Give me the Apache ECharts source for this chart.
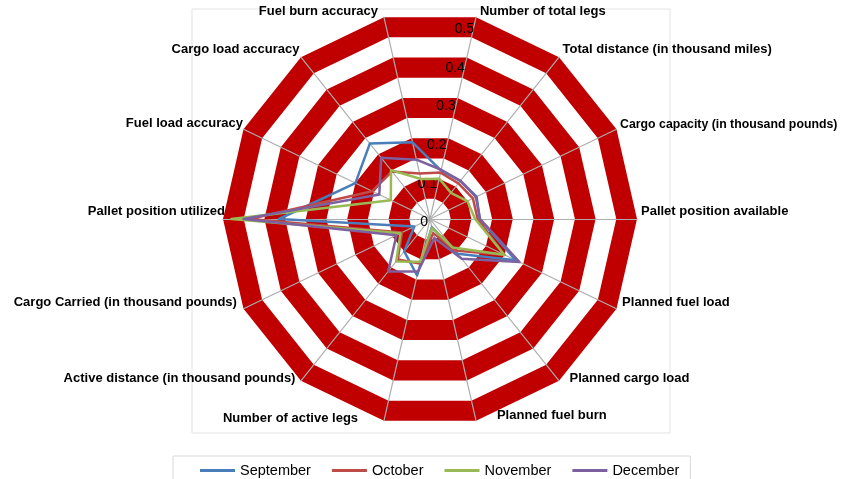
<!DOCTYPE html>
<html>
<head>
<meta charset="utf-8">
<title>Radar</title>
<script src="https://cdn.jsdelivr.net/npm/echarts@6/dist/echarts.min.js"></script>
<style>
  html, body { margin: 0; padding: 0; background: #fff; }
  #main { width: 851px; height: 479px; }
</style>
</head>
<body>
<div id="main"></div>
<script>
// categories in the order they go round the chart (clockwise from the top)
var categories = [
  'Number of total legs',
  'Total distance (in thousand miles)',
  'Cargo capacity (in thousand pounds)',
  'Pallet position available',
  'Planned fuel load',
  'Planned cargo load',
  'Planned fuel burn',
  'Number of active legs',
  'Active distance (in thousand pounds)',
  'Cargo Carried (in thousand pounds)',
  'Pallet position utilized',
  'Fuel load accuracy',
  'Cargo load accuracy',
  'Fuel burn accuracy'
]
var months = ['September', 'October', 'November', 'December']
var september = [0.12, 0.118, 0.125, 0.12, 0.23, 0.107, 0.02, 0.14, 0.10, 0.042, 0.365, 0.20, 0.233, 0.19]
var october = [0.115, 0.11, 0.115, 0.115, 0.20, 0.097, 0.035, 0.11, 0.125, 0.075, 0.435, 0.155, 0.147, 0.113]
var november = [0.10, 0.081, 0.10, 0.109, 0.199, 0.088, 0.022, 0.106, 0.131, 0.079, 0.48, 0.105, 0.151, 0.099]
var december = [0.122, 0.118, 0.123, 0.121, 0.24, 0.123, 0.047, 0.13, 0.162, 0.09, 0.45, 0.136, 0.189, 0.147]
var axisTicks = [0, 0.1, 0.2, 0.3, 0.4, 0.5]
var colors = ['#4A7EBB', '#BE4B48', '#98B954', '#7D60A0']

// small nudges [dx, dy] so the names sit where excel put them
var labelNudge = [
  [3, -2], [1, -5], [0, -3], [0, -8], [2, -8], [8, -6], [20, -9],
  [-25, -6], [-3, -6], [-3, -8], [6, -8], [3, -4], [1, -5], [-5, -2]
]

// echarts goes round counter-clockwise, so walk the categories backwards
var order = [0]
for (var i = categories.length - 1; i > 0; i--) order.push(i)
function reorder(arr) {
  return order.map(function (k) { return arr[k] })
}

var half = categories.length / 2
var nameRich = {}
categories.forEach(function (c, k) {
  var dx = labelNudge[k][0], dy = labelNudge[k][1]
  var left = k < half ? dx : 0
  var right = k < half ? 0 : -dx
  nameRich['n' + k] = {
    color: '#000',
    fontWeight: 'bold',
    fontSize: k === 2 ? 12.3 : 13,
    fontFamily: 'Liberation Sans',
    padding: [dy > 0 ? 2 * dy : 0, right, dy < 0 ? -2 * dy : 0, left]
  }
})

// value labels drift down a little more the further out they are
var tickRich = {}
axisTicks.forEach(function (t, k) {
  tickRich['t' + k] = {
    color: '#000',
    fontSize: 14,
    fontFamily: 'Liberation Sans',
    padding: [7.4 + 3.6 * k, 0, 0, 0]
  }
})

var maxVal = axisTicks[axisTicks.length - 1]
var indicatorBase = reorder(categories).map(function (name) {
  return { name: name, min: 0, max: maxVal }
})
var indicatorTop = reorder(categories).map(function (name, i) {
  var ind = { name: name, min: 0, max: maxVal }
  if (i === 0) {
    ind.axisLabel = {
      show: true,
      margin: 2,
      formatter: function (v) {
        var r = Math.round(v * 100)
        if (r % 10 !== 0) return ''
        return '{t' + r / 10 + '|' + String(r / 100) + '}'
      },
      rich: tickRich
    }
  }
  return ind
})

var monthData = [september, october, november, december]

var common = {
  center: [430, 219],
  radius: 207,
  startAngle: 90 - 180 / categories.length,
  splitNumber: 10,
  shape: 'polygon'
}

var myChart = echarts.init(document.getElementById('main'))
myChart.setOption({
  backgroundColor: '#fff',
  animation: false,
  graphic: [{
    type: 'rect',
    z: -10,
    shape: { x: 192, y: 9, width: 478, height: 424 },
    style: { fill: 'none', stroke: '#E3E3E3', lineWidth: 1 }
  }],
  legend: {
    data: months,
    left: 173,
    top: 456,
    padding: [7, 11, 5, 27],
    itemGap: 21,
    itemWidth: 35,
    itemHeight: 3,
    icon: 'rect',
    borderColor: '#D9D9D9',
    borderWidth: 1,
    textStyle: { color: '#000', fontSize: 14.5, fontFamily: 'Liberation Sans' }
  },
  radar: [
    // bands and names
    Object.assign({}, common, {
      z: 0,
      nameGap: 4,
      axisName: {
        formatter: function (name) {
          return '{n' + categories.indexOf(name) + '|' + name + '}'
        },
        rich: nameRich
      },
      splitArea: { show: true, areaStyle: { color: ['#FFFFFF', '#C00000'] } },
      splitLine: { show: false },
      axisLine: { show: false },
      axisTick: { show: false },
      axisLabel: { show: false },
      indicator: indicatorBase
    }),
    // spokes and value labels on top of the bands
    Object.assign({}, common, {
      z: 1,
      axisName: { show: false },
      splitArea: { show: false },
      splitLine: { show: false },
      axisLine: { show: true, lineStyle: { color: '#ADADAD', width: 1.2 } },
      axisTick: { show: false },
      axisLabel: { show: false },
      indicator: indicatorTop
    })
  ],
  series: [{
    type: 'radar',
    radarIndex: 0,
    z: 5,
    symbol: 'none',
    data: months.map(function (m, i) {
      return {
        name: m,
        value: reorder(monthData[i]),
        lineStyle: { color: colors[i], width: 2.5 },
        itemStyle: { color: colors[i] }
      }
    })
  }]
})
</script>
</body>
</html>
